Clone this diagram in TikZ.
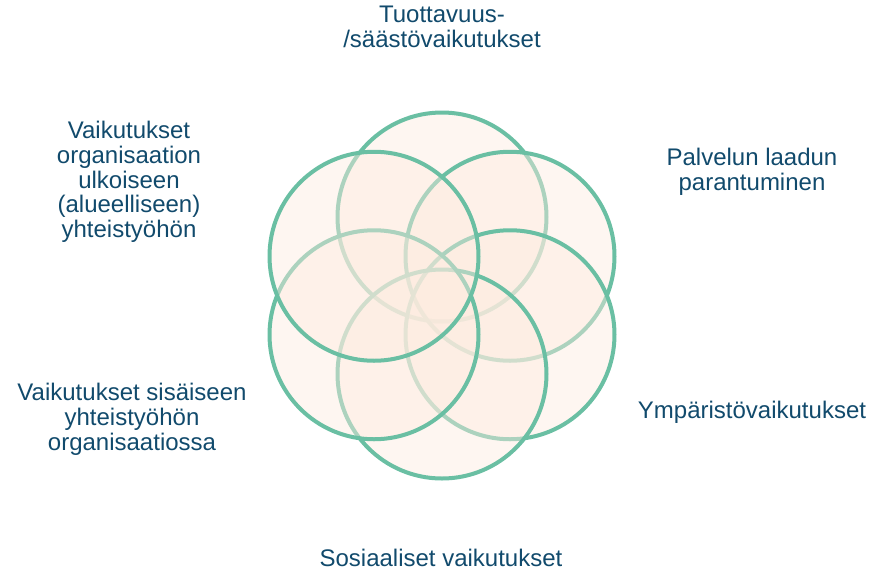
\documentclass[tikz,border=0pt]{standalone}
\usepackage{fontspec}
\setmainfont{Liberation Sans}
\definecolor{ringc}{HTML}{6ABFA3}
\definecolor{fillc}{HTML}{FDEBDF}
\definecolor{txtc}{HTML}{114A6C}
\begin{document}
\begin{tikzpicture}[x=1pt,y=-1pt,
  ring/.style={circle,draw=ringc,line width=4pt,fill=fillc,fill opacity=0.45,draw opacity=1,minimum size=209pt,inner sep=0pt},
  lbl/.style={text=txtc,align=center,inner sep=0pt,anchor=base,font=\fontsize{24}{24.8}\selectfont}]
\useasboundingbox (0,0) rectangle (879,574);
\node[ring] (top) at (442,217) {};
\node[ring] (tr) at (510,256.25) {};
\node[ring] (br) at (510,334.75) {};
\node[ring] (bot) at (442,374) {};
\node[ring] (bl) at (374,334.75) {};
\node[ring] (tl) at (374,256.25) {};
\node[lbl] (ttop) at (442,47.3) {Tuottavuus-\\/säästövaikutukset};
\node[lbl] (ttr) at (752,190.5) {Palvelun laadun\\parantuminen};
\node[lbl] (tbr) at (752,418.3) {Ympäristövaikutukset};
\node[lbl] (tbot) at (441,566.7) {Sosiaaliset vaikutukset};
\node[lbl] (tbl) at (132,450.5) {Vaikutukset sisäiseen\\yhteistyöhön\\organisaatiossa};
\node[lbl] (ttl) at (129,237.7) {Vaikutukset\\organisaation\\ulkoiseen\\(alueelliseen)\\yhteistyöhön};
\end{tikzpicture}
\end{document}
